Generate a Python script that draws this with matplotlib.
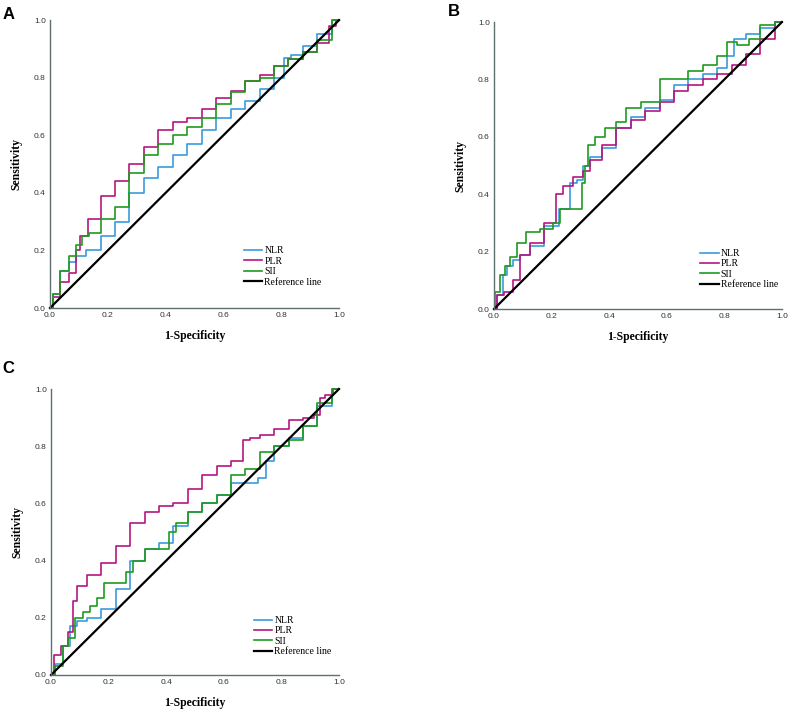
import matplotlib
matplotlib.use("Agg")
import matplotlib.pyplot as plt

# panel A
a_nlr_x = [0, 0.02, 0.05, 0.08, 0.1, 0.15, 0.2, 0.25, 0.3, 0.35, 0.4, 0.45, 0.5, 0.55, 0.6,
           0.65, 0.7, 0.75, 0.8, 0.82, 0.85, 0.9, 0.95, 1.0]
a_nlr_y = [0, 0.05, 0.13, 0.16, 0.18, 0.2, 0.25, 0.3, 0.4, 0.45, 0.49, 0.53, 0.57, 0.62, 0.66,
           0.69, 0.72, 0.76, 0.8, 0.87, 0.88, 0.91, 0.95, 1.0]
a_plr_x = [0, 0.02, 0.05, 0.08, 0.1, 0.11, 0.15, 0.2, 0.25, 0.3, 0.35, 0.4, 0.45, 0.5, 0.55,
           0.6, 0.65, 0.7, 0.75, 0.8, 0.85, 0.9, 0.95, 0.98, 1.0]
a_plr_y = [0, 0.04, 0.09, 0.12, 0.2, 0.25, 0.31, 0.39, 0.44, 0.5, 0.56, 0.62, 0.645, 0.66, 0.69,
           0.73, 0.755, 0.79, 0.81, 0.84, 0.865, 0.89, 0.92, 0.98, 1.0]
a_sii_x = [0, 0.02, 0.05, 0.08, 0.1, 0.12, 0.15, 0.2, 0.25, 0.3, 0.35, 0.4, 0.45, 0.5, 0.55,
           0.6, 0.65, 0.7, 0.75, 0.8, 0.85, 0.9, 0.95, 1.0]
a_sii_y = [0, 0.05, 0.13, 0.18, 0.22, 0.25, 0.26, 0.31, 0.35, 0.47, 0.53, 0.57, 0.6, 0.63, 0.66,
           0.71, 0.75, 0.79, 0.8, 0.84, 0.865, 0.89, 0.93, 1.0]

# panel B
b_nlr_x = [0, 0.02, 0.04, 0.05, 0.08, 0.1, 0.15, 0.2, 0.25, 0.28, 0.3, 0.32, 0.35, 0.4, 0.45,
           0.5, 0.55, 0.6, 0.65, 0.7, 0.75, 0.8, 0.82, 0.85, 0.9, 0.95, 1.0]
b_nlr_y = [0, 0.05, 0.12, 0.15, 0.17, 0.19, 0.22, 0.29, 0.35, 0.44, 0.45, 0.5, 0.53, 0.56, 0.63,
           0.67, 0.7, 0.73, 0.78, 0.8, 0.82, 0.84, 0.88, 0.94, 0.96, 0.98, 1.0]
b_plr_x = [0, 0.02, 0.05, 0.08, 0.1, 0.15, 0.2, 0.23, 0.25, 0.3, 0.32, 0.35, 0.4, 0.45, 0.5,
           0.55, 0.6, 0.65, 0.7, 0.75, 0.8, 0.85, 0.9, 0.95, 1.0]
b_plr_y = [0, 0.05, 0.06, 0.1, 0.19, 0.23, 0.3, 0.4, 0.43, 0.46, 0.48, 0.52, 0.57, 0.63, 0.66,
           0.69, 0.72, 0.76, 0.78, 0.8, 0.82, 0.85, 0.89, 0.94, 1.0]
b_sii_x = [0, 0.01, 0.03, 0.05, 0.06, 0.1, 0.12, 0.2, 0.21, 0.25, 0.3, 0.31, 0.32, 0.33, 0.37,
           0.4, 0.45, 0.47, 0.55, 0.6, 0.65, 0.7, 0.75, 0.8, 0.82, 0.87, 0.9, 0.95, 1.0]
b_sii_y = [0, 0.06, 0.12, 0.15, 0.18, 0.23, 0.27, 0.28, 0.3, 0.35, 0.35, 0.44, 0.5, 0.57, 0.6,
           0.63, 0.65, 0.7, 0.72, 0.8, 0.8, 0.83, 0.85, 0.88, 0.93, 0.92, 0.94, 0.99, 1.0]

# panel C
c_nlr_x = [0, 0.03, 0.05, 0.08, 0.1, 0.15, 0.2, 0.25, 0.3, 0.35, 0.4, 0.45, 0.5, 0.55, 0.6,
           0.65, 0.7, 0.74, 0.75, 0.8, 0.85, 0.9, 0.95, 1.0]
c_nlr_y = [0, 0.04, 0.1, 0.17, 0.19, 0.2, 0.23, 0.3, 0.4, 0.44, 0.46, 0.52, 0.57, 0.6, 0.63,
           0.67, 0.67, 0.69, 0.75, 0.8, 0.83, 0.87, 0.94, 1.0]
c_plr_x = [0, 0.02, 0.05, 0.07, 0.08, 0.1, 0.15, 0.2, 0.25, 0.3, 0.35, 0.4, 0.45, 0.5, 0.55,
           0.6, 0.65, 0.68, 0.7, 0.75, 0.8, 0.85, 0.9, 0.93, 0.94, 0.96, 1.0]
c_plr_y = [0, 0.07, 0.1, 0.15, 0.26, 0.31, 0.35, 0.39, 0.45, 0.53, 0.57, 0.59, 0.6, 0.65, 0.7,
           0.73, 0.75, 0.82, 0.83, 0.84, 0.86, 0.89, 0.9, 0.91, 0.97, 0.98, 1.0]
c_sii_x = [0, 0.03, 0.05, 0.07, 0.1, 0.12, 0.15, 0.17, 0.2, 0.25, 0.27, 0.3, 0.35, 0.4, 0.42,
           0.45, 0.5, 0.55, 0.6, 0.65, 0.7, 0.75, 0.8, 0.85, 0.9, 0.95, 1.0]
c_sii_y = [0, 0.03, 0.1, 0.13, 0.2, 0.22, 0.24, 0.27, 0.32, 0.32, 0.36, 0.4, 0.44, 0.44, 0.5,
           0.53, 0.57, 0.6, 0.63, 0.7, 0.72, 0.78, 0.8, 0.82, 0.87, 0.95, 1.0]

ref_xy = [0, 1]
series_names = ["NLR", "PLR", "SII", "Reference line"]
ticks = [0.0, 0.2, 0.4, 0.6, 0.8, 1.0]

# letter, axes rect, legend anchor, curves
panels = [
    ("A", [0.0631, 0.571, 0.365, 0.401], (0.654, 0.144),
     [(a_nlr_x, a_nlr_y), (a_plr_x, a_plr_y), (a_sii_x, a_sii_y)]),
    ("B", [0.6237, 0.5696, 0.3636, 0.3997], (0.70, 0.139),
     [(b_nlr_x, b_nlr_y), (b_plr_x, b_plr_y), (b_sii_x, b_sii_y)]),
    ("C", [0.0644, 0.0599, 0.3636, 0.3983], (0.688, 0.136),
     [(c_nlr_x, c_nlr_y), (c_plr_x, c_plr_y), (c_sii_x, c_sii_y)]),
]
letter_pos = {"A": (0.003, 0.99), "B": (0.565, 0.995), "C": (0.003, 0.497)}
colors = ["#3a9bdc", "#b5157e", "#1f9a1f"]

fig = plt.figure(figsize=(7.92, 7.18), dpi=100)

for letter, rect, leg_pos, curves in panels:
    ax = fig.add_axes(rect)
    for (xs, ys), c, name in zip(curves, colors, series_names):
        ax.plot(xs, ys, color=c, lw=1.2, drawstyle="steps-mid", label=name, clip_on=False)
    ax.plot(ref_xy, ref_xy, color="black", lw=1.6, label=series_names[3], clip_on=False)
    ax.set_xlim(0, 1)
    ax.set_ylim(0, 1)
    ax.set_xticks(ticks)
    ax.set_yticks(ticks)
    ax.set_xticklabels([f"{t:.1f}" for t in ticks], fontsize=6, family="Liberation Sans", color="#333333")
    ax.set_yticklabels([f"{t:.1f}" for t in ticks], fontsize=6, family="Liberation Sans", color="#333333")
    ax.tick_params(length=0, pad=3)
    for s in ["top", "right"]:
        ax.spines[s].set_visible(False)
    for s in ["left", "bottom"]:
        ax.spines[s].set_color("#5f7070")
        ax.spines[s].set_linewidth(1.0)
    ax.set_xlabel("1-Specificity", fontsize=8.5, family="Liberation Serif", fontweight="bold", labelpad=8)
    ax.set_ylabel("Sensitivity", fontsize=8.5, family="Liberation Serif", fontweight="bold", labelpad=8)
    ax.legend(loc="center left", bbox_to_anchor=leg_pos, frameon=False, borderpad=0,
              labelspacing=0.15, handlelength=1.9, handletextpad=0.2,
              prop={"family": "Liberation Serif", "size": 7})
    lx, ly = letter_pos[letter]
    fig.text(lx, ly, letter, fontsize=12, fontweight="bold", family="Liberation Sans",
             ha="left", va="top")

fig.savefig("out.png", dpi=100)
